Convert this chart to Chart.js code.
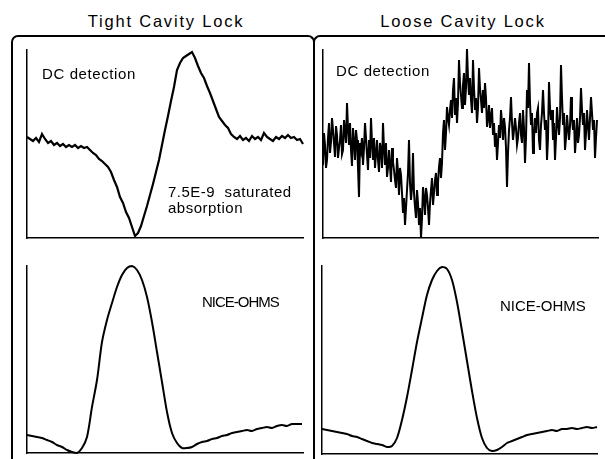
<!DOCTYPE html>
<html><head><meta charset="utf-8">
<script src="https://cdn.jsdelivr.net/npm/chart.js@4.4.0/dist/chart.umd.min.js"></script>
<style>
html,body{margin:0;padding:0;background:#fff;}
#wrap{position:relative;width:605px;height:459px;overflow:hidden;background:#fff;font-family:"Liberation Sans",Arial,Helvetica,sans-serif;color:#000;}
canvas{position:absolute;z-index:2;}
.frame{position:absolute;box-sizing:border-box;border:2px solid #000;border-bottom:none;z-index:1;}
.t{position:absolute;white-space:pre;line-height:1;z-index:3;}
</style></head><body>
<div id="wrap">
  <div class="frame" style="left:11px;top:35px;width:304px;height:440px;border-radius:7px 7px 0 0;"></div>
  <div class="frame" style="left:313px;top:35px;width:400px;height:440px;border-right:none;border-radius:7px 0 0 0;"></div>
  <div class="t" style="left:0px;top:13px;width:332px;text-align:center;font-size:16.5px;letter-spacing:1.8px;">Tight Cavity Lock</div>
  <div class="t" style="left:363px;top:13px;width:200px;text-align:center;font-size:16.5px;letter-spacing:1.8px;">Loose Cavity Lock</div>
  <div class="t" style="left:42px;top:66px;font-size:15px;letter-spacing:0.6px;">DC detection</div>
  <div class="t" style="left:336px;top:63px;font-size:15px;letter-spacing:0.6px;">DC detection</div>
  <div class="t" style="left:168px;top:184px;font-size:15px;letter-spacing:0.5px;">7.5E-9  saturated</div>
  <div class="t" style="left:168px;top:200px;font-size:15px;letter-spacing:0.5px;">absorption</div>
  <div class="t" style="left:202px;top:294px;font-size:15px;letter-spacing:-1px;">NICE-OHMS</div>
  <div class="t" style="left:500px;top:298px;font-size:15px;letter-spacing:0px;">NICE-OHMS</div>
  <canvas id="c1" width="282" height="194" style="left:24px;top:47px;"></canvas>
  <canvas id="c2" width="281" height="194" style="left:320px;top:47px;"></canvas>
  <canvas id="c3" width="282" height="193" style="left:24px;top:263px;"></canvas>
  <canvas id="c4" width="281" height="194" style="left:319px;top:263px;"></canvas>
</div>
<script>
// Sample positions (arbitrary detuning units) and signals
const tightDcX = [0,3,6,9,12,15,18,21,24,27,30,33,36,39,42,45,48,51,54,57,60,63,66,69,72,75,78,81,84,87,90,93,96,99,102,105,108,111,114,117,120,123,126,129,132,135,138,141,144,147,150,153,156,159,162,165,168,171,174,177,180,183,186,189,192,195,198,201,204,207,210,213,216,219,222,225,228,231,234,237,240,243,246,249,252,255,258,261,264,267,270,273,276];
const tightDcY = [101,99,97,100,96,104,99,95,97,93,95,92,94,91,93,91,93,90,92,90,91,88,85,83,79,77,74,71,66,58,51,41,35,26,20,11,2,5,12,22,32,43,54,66,78,93,108,122,137,151,168,175,180,182,184,186,180,172,165,160,152,145,137,129,121,117,113,110,104,101,99,102,98,100,97,102,99,101,98,105,101,99,97,101,99,102,100,103,100,101,98,99,94];

const looseDcX = [0,1,2,3,4,5,6,7,8,9,10,11,12,13,14,15,16,17,18,19,20,21,22,23,24,25,26,27,28,29,30,31,32,33,34,35,36,37,38,39,40,41,42,43,44,45,46,47,48,49,50,51,52,53,54,55,56,57,58,59,60,61,62,63,64,65,66,67,68,69,70,71,72,73,74,75,76,77,78,79,80,81,82,83,84,85,86,87,88,89,90,91,92,93,94,95,96,97,98,99,100,101,102,103,104,105,106,107,108,109,110,111,112,113,114,115,116,117,118,119,120,121,122,123,124,125,126,127,128,129,130,131,132,133,134,135,136,137,138,139,140,141,142,143,144,145,146,147,148,149,150,151,152,153,154,155,156,157,158,159,160,161,162,163,164,165,166,167,168,169,170,171,172,173,174,175,176,177,178,179,180,181,182,183,184,185,186,187,188,189,190,191,192,193,194,195,196,197,198,199,200,201,202,203,204,205,206,207,208,209,210,211,212,213,214,215,216,217,218,219,220,221,222,223,224,225,226,227,228,229,230,231,232,233,234,235,236,237,238,239,240,241,242,243,244,245,246,247,248,249,250,251,252,253,254,255,256,257,258,259,260,261,262,263,264,265,266,267,268,269,270,271,272,273,274];
const looseDcY = [
  73,105,93,70,78,100,115,85,96,120,108,95,81,112,103,80,90,98,113,84,
  88,118,106,95,135,110,93,115,88,72,110,96,78,108,98,70,41,95,88,100,
  73,90,115,100,83,68,98,80,120,95,78,100,70,84,98,78,66,95,88,70,
  115,90,73,95,61,70,88,72,56,90,76,68,58,50,80,66,43,70,63,45,
  25,40,13,30,48,65,98,55,38,50,85,45,31,20,48,35,13,30,0,20,
  51,40,23,50,43,30,13,35,48,60,33,45,58,65,43,55,71,80,60,75,
  105,118,88,105,131,120,113,128,138,120,148,160,123,140,115,135,178,155,143,130,
  153,165,133,150,189,160,143,160,138,125,178,150,128,140,115,130,170,150,138,125,
  148,130,155,140,111,120,133,110,121,130,103,115,91,105,78,95,113,100,128,115,
  98,120,111,90,51,85,108,120,141,115,98,108,120,110,93,100,115,125,103,95,
  128,110,75,100,148,130,175,135,113,125,85,100,120,105,125,130,98,88,113,125,
  148,125,108,118,78,100,156,130,118,128,98,115,78,100,131,115,103,120,173,140,
  113,125,88,100,123,110,98,112,141,120,108,118,85,100,120,95,103,120,150,128,
  113,125,88,105,128,112,98,120,141,125,108,118,80,100,118];

const niceX = [0,5,10,15,20,25,30,35,40,45,50,55,60,65,70,75,80,85,90,95,100,105,110,115,120,125,130,135,140,145,150,155,160,165,170,175,180,185,190,195,200,205,210,215,220,225,230,235,240,245,250,255,260,265,270,275];
const tightNiceY = [18,17,16,15,13,11,8,6,3,1,0,5,16,46,73,111,133,150,166,178,185,187,183,173,156,131,101,71,41,20,10,5,5,6,9,11,12,14,15,17,18,20,21,22,23,22,24,25,26,25,27,28,27,29,29,29];
const looseNiceY = [25,24,23,22,21,20,18,17,15,13,11,10,9,7,8,16,34,57,84,112,136,159,174,183,187,185,174,152,123,93,63,36,16,6,3,4,7,11,13,15,17,19,20,21,22,23,24,23,25,25,26,25,26,27,26,27];

function pts(xs, ys){ return xs.map((x,i)=>({x:x, y:ys[i]})); }

function makeChart(id, xs, ys, xMax, yMax, lw, tension){
  new Chart(document.getElementById(id), {
    type: 'line',
    data: { datasets: [{ data: pts(xs, ys), borderColor: '#000', borderWidth: lw, pointRadius: 0, fill: false, tension: tension, clip: 6 }] },
    options: {
      responsive: false, animation: false, devicePixelRatio: 1,
      layout: { padding: 3 },
      plugins: { legend: { display: false }, tooltip: { enabled: false }, title: { display: false } },
      scales: {
        x: { type: 'linear', min: 0, max: xMax, ticks: { display: false }, grid: { display: false, drawTicks: false }, border: { display: true, color: '#000', width: 1.5 } },
        y: { type: 'linear', min: 0, max: yMax, ticks: { display: false }, grid: { display: false, drawTicks: false }, border: { display: true, color: '#000', width: 1.5 } }
      }
    }
  });
}
makeChart('c1', tightDcX, tightDcY, 276, 188, 2.2, 0);
makeChart('c2', looseDcX, looseDcY, 275, 188, 2, 0);
makeChart('c3', niceX, tightNiceY, 276, 187, 2, 0.3);
makeChart('c4', niceX, looseNiceY, 275, 188, 2, 0.3);
</script>
</body></html>
